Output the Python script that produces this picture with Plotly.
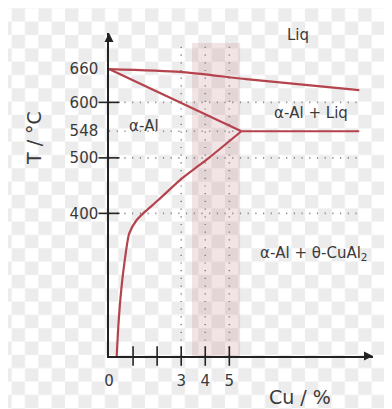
import base64
import plotly.graph_objects as go

# ---------------- data ----------------
y_tick_vals = [400, 500, 548, 600, 660]
y_tick_text = ["400", "500", "548", "600", "660"]
y_tick_marks = [400, 500, 600]
x_tick_vals = [0, 3, 4, 5]
x_tick_text = ["0", "3", "4", "5"]
x_tick_marks = [1, 2, 3, 4, 5]

guide_T = [400, 500, 548, 600]
guide_cu = [3, 4, 5]

liquidus_cu = [0, 2.95, 5.7, 10.4]
liquidus_T = [660, 655, 642, 622]
solidus_cu = [0, 5.5]
solidus_T = [660, 548]
eutectic_cu = [5.5, 10.4]
eutectic_T = [548, 548]
solvus_cu = [5.5, 4.15, 2.95, 2.05, 1.42, 1.15, 0.84, 0.62, 0.47, 0.37, 0.32]
solvus_T = [548, 500, 460, 424, 400, 388, 364, 304, 244, 184, 143]

band_cu = [3.45, 5.45]
band_T = [143, 707]

region_labels = ["Liq", "α-Al + Liq", "α-Al", "α-Al + θ-CuAl<sub>2</sub>"]
region_cu = [7.86, 8.4, 1.45, 8.52]
region_T = [721, 581, 558, 328]

X_RANGE = [0, 10.97]
Y_RANGE = [143, 725]

RED = "#b5434d"
AX = "#222222"
TXT = "#3a3a3a"
FONT = "DejaVu Sans"

# page body has an 8px margin at top/left
OFF = 8
W, H = 392 - OFF, 409 - OFF
ML, MT = 109 - OFF, 33 - OFF
MR = W - (373 - OFF)
MB = H - (356 - OFF)
pw = W - ML - MR
ph = H - MT - MB


def px_to_paper(px, py):
    return (px - OFF - ML) / pw, (H - MB - (py - OFF)) / ph


fig = go.Figure()

# shaded band
fig.add_trace(go.Scatter(
    x=[band_cu[0], band_cu[1], band_cu[1], band_cu[0], band_cu[0]],
    y=[band_T[0], band_T[0], band_T[1], band_T[1], band_T[0]],
    mode="lines", fill="toself", fillcolor="rgba(195,130,130,0.22)",
    line=dict(width=0), hoverinfo="skip", showlegend=False))

# dotted guide lines
for t in guide_T:
    fig.add_trace(go.Scatter(x=[0, 10.5], y=[t, t], mode="lines",
                             line=dict(color="#8a8a8a", width=1.6, dash="1.2px,6.5px"),
                             hoverinfo="skip", showlegend=False))
for c in guide_cu:
    fig.add_trace(go.Scatter(x=[c, c], y=[band_T[0], band_T[1]], mode="lines",
                             line=dict(color="#8a8a8a", width=1.6, dash="1.2px,6.5px"),
                             hoverinfo="skip", showlegend=False))

# phase boundaries
for xs, ys, shape in [(liquidus_cu, liquidus_T, "spline"),
                      (solidus_cu, solidus_T, "linear"),
                      (eutectic_cu, eutectic_T, "linear"),
                      (solvus_cu, solvus_T, "spline")]:
    fig.add_trace(go.Scatter(x=xs, y=ys, mode="lines",
                             line=dict(color=RED, width=2.2, shape=shape, smoothing=0.6),
                             hoverinfo="skip", showlegend=False, cliponaxis=False))

# tick marks crossing the axes
fig.add_trace(go.Scatter(x=[0] * len(y_tick_marks), y=y_tick_marks, mode="markers",
                         marker=dict(symbol="line-ew", size=15, line=dict(color=AX, width=1.6)),
                         cliponaxis=False, hoverinfo="skip", showlegend=False))
fig.add_trace(go.Scatter(x=x_tick_marks, y=[Y_RANGE[0]] * len(x_tick_marks), mode="markers",
                         marker=dict(symbol="line-ns", size=14, line=dict(color=AX, width=1.6)),
                         cliponaxis=False, hoverinfo="skip", showlegend=False))

# arrow heads at the axis ends
fig.add_trace(go.Scatter(x=[X_RANGE[0]], y=[Y_RANGE[1]], mode="markers",
                         marker=dict(symbol="arrow-up", size=9, color=AX, line=dict(width=0)),
                         cliponaxis=False, hoverinfo="skip", showlegend=False))
fig.add_trace(go.Scatter(x=[X_RANGE[1]], y=[Y_RANGE[0]], mode="markers",
                         marker=dict(symbol="arrow-right", size=9, color=AX, line=dict(width=0)),
                         cliponaxis=False, hoverinfo="skip", showlegend=False))

# region labels
for txt, cx, cy in zip(region_labels, region_cu, region_T):
    fig.add_annotation(x=cx, y=cy, text=txt, showarrow=False,
                       font=dict(family=FONT, size=15, color=TXT),
                       xanchor="center", yanchor="middle")

# axis titles
tx, ty = px_to_paper(34, 138)
fig.add_annotation(xref="paper", yref="paper", x=tx, y=ty,
                   text="T / °C", textangle=-90, showarrow=False,
                   font=dict(family=FONT, size=19, color=TXT),
                   xanchor="center", yanchor="middle")
cx_, cy_ = px_to_paper(300, 397)
fig.add_annotation(xref="paper", yref="paper", x=cx_, y=cy_,
                   text="Cu / %", showarrow=False,
                   font=dict(family=FONT, size=19, color=TXT),
                   xanchor="center", yanchor="middle")

# checkerboard background
sq = 13.33
svg = (f"<svg xmlns='http://www.w3.org/2000/svg' width='{W}' height='{H}'>"
       f"<defs><pattern id='p' x='{11.7 - OFF}' y='{8.3 - OFF}' width='{2*sq}' height='{2*sq}' patternUnits='userSpaceOnUse'>"
       f"<rect width='{2*sq}' height='{2*sq}' fill='#ffffff'/>"
       f"<rect width='{sq}' height='{sq}' fill='#ececec'/>"
       f"<rect x='{sq}' y='{sq}' width='{sq}' height='{sq}' fill='#ececec'/>"
       f"</pattern></defs><rect width='{W}' height='{H}' fill='url(#p)'/></svg>")
src = "data:image/svg+xml;base64," + base64.b64encode(svg.encode()).decode()
fig.add_layout_image(dict(source=src, xref="paper", yref="paper",
                          x=-ML / pw, y=1 + MT / ph, sizex=W / pw, sizey=H / ph,
                          xanchor="left", yanchor="top", sizing="stretch", layer="below"))

fig.update_layout(
    width=W, height=H,
    margin=dict(l=ML, r=MR, t=MT, b=MB),
    paper_bgcolor="rgba(0,0,0,0)", plot_bgcolor="rgba(0,0,0,0)",
    showlegend=False,
    xaxis=dict(range=X_RANGE, showgrid=False, zeroline=False, showline=True,
               linecolor=AX, linewidth=1.5, ticks="", tickvals=x_tick_vals,
               ticktext=x_tick_text, ticklabelstandoff=10,
               tickfont=dict(family=FONT, size=15, color=TXT), fixedrange=True),
    yaxis=dict(range=Y_RANGE, showgrid=False, zeroline=False, showline=True,
               linecolor=AX, linewidth=1.5, ticks="", tickvals=y_tick_vals,
               ticktext=y_tick_text, ticklabelstandoff=6,
               tickfont=dict(family=FONT, size=15, color=TXT), fixedrange=True),
)

fig.write_html("out.html")
